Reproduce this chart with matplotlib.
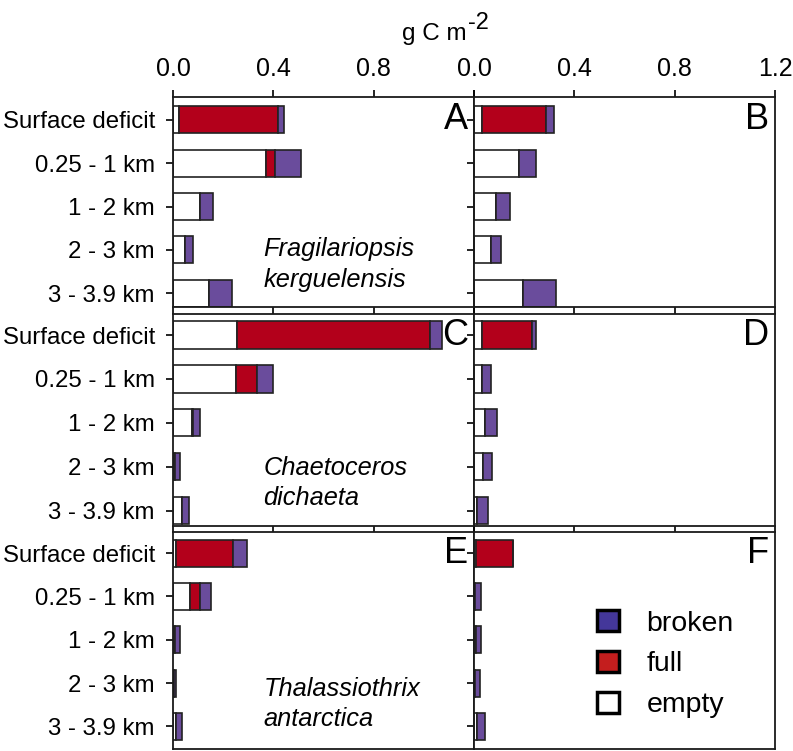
import numpy as np
import matplotlib
matplotlib.use('Agg')
import matplotlib.pyplot as plt
from matplotlib.patches import Patch

plt.rcParams['font.family'] = ['Liberation Sans', 'DejaVu Sans']

depths = ['Surface deficit', '0.25 - 1 km', '1 - 2 km', '2 - 3 km', '3 - 3.9 km']
xticks = [0.0, 0.4, 0.8, 1.2]
species = [('Fragilariopsis', 'kerguelensis'),
           ('Chaetoceros', 'dichaeta'),
           ('Thalassiothrix', 'antarctica')]

# g C m-2, stacked: empty | full | broken
empty_A = [0.025, 0.369, 0.108, 0.049, 0.143]
full_A = [0.394, 0.036, 0.0, 0.0, 0.0]
broken_A = [0.025, 0.107, 0.051, 0.032, 0.094]

empty_B = [0.033, 0.180, 0.089, 0.069, 0.195]
full_B = [0.255, 0.0, 0.0, 0.0, 0.0]
broken_B = [0.032, 0.067, 0.054, 0.039, 0.133]

empty_C = [0.256, 0.253, 0.076, 0.008, 0.035]
full_C = [0.768, 0.080, 0.005, 0.0, 0.0]
broken_C = [0.048, 0.066, 0.028, 0.019, 0.029]

empty_D = [0.033, 0.033, 0.044, 0.035, 0.013]
full_D = [0.198, 0.0, 0.0, 0.0, 0.0]
broken_D = [0.017, 0.036, 0.047, 0.037, 0.043]

empty_E = [0.012, 0.069, 0.008, 0.003, 0.011]
full_E = [0.227, 0.038, 0.0, 0.0, 0.0]
broken_E = [0.056, 0.044, 0.021, 0.010, 0.026]

empty_F = [0.006, 0.004, 0.008, 0.003, 0.013]
full_F = [0.151, 0.0, 0.0, 0.0, 0.0]
broken_F = [0.0, 0.023, 0.019, 0.021, 0.032]

panels = [('A', empty_A, full_A, broken_A), ('B', empty_B, full_B, broken_B),
          ('C', empty_C, full_C, broken_C), ('D', empty_D, full_D, broken_D),
          ('E', empty_E, full_E, broken_E), ('F', empty_F, full_F, broken_F)]

RED = '#B3001B'
PURPLE = '#6A4C9C'
EDGE = '#222222'

W, H = 793, 751
col_x = [173, 474]
col_w = 301
rows_px = [(96.5, 307.5), (314, 525.5), (531.5, 749)]
row_ylim = [(4.33, -0.54), (4.34, -0.48), (4.52, -0.5)]
name_y = [(3.14, 3.85), (3.19, 3.87), (3.29, 4.0)]

fig = plt.figure(figsize=(W / 100, H / 100), dpi=100)
axes = {}

for i, (letter, empty, full, broken) in enumerate(panels):
    row, col = divmod(i, 2)
    top, bot = rows_px[row]
    ax = fig.add_axes([col_x[col] / W, 1 - bot / H, col_w / W, (bot - top) / H])
    axes[letter] = ax
    y = np.arange(len(depths))
    kw = dict(height=0.62, edgecolor=EDGE, linewidth=1.2)
    ax.barh(y, empty, color='white', **kw)
    ax.barh(y, full, left=empty, color=RED, **kw)
    ax.barh(y, broken, left=np.add(empty, full), color=PURPLE, **kw)

    ax.set_xlim(0, 1.2)
    ax.set_ylim(*row_ylim[row])
    for s in ax.spines.values():
        s.set_linewidth(1.3)
        s.set_color('#1a1a1a')

    ax.set_yticks(y)
    if col == 0:
        ax.set_yticklabels(depths, fontsize=17.3)
    else:
        ax.set_yticklabels([])
    ax.tick_params(axis='y', direction='out', length=5, width=1.2, pad=8)

    ax.set_xticks(xticks)
    if row == 0:
        ax.xaxis.set_ticks_position('both')
        ax.tick_params(axis='x', top=True, labeltop=True, bottom=True,
                       labelbottom=False, direction='out', length=5, width=1.2,
                       labelsize=18, pad=6)
        if col == 0:
            ax.set_xticklabels(['0.0', '0.4', '0.8', ''])
        else:
            ax.set_xticklabels(['0.0', '0.4', '0.8', '1.2'])
    else:
        ax.tick_params(axis='x', top=False, labeltop=False, bottom=(row < 2),
                       labelbottom=False, direction='out', length=5, width=1.2)

    ax.text(1.178, 0, letter, ha='right', va='center', fontsize=26)

    if col == 0:
        l1, l2 = species[row]
        ax.text(0.36, name_y[row][0], l1, style='italic', fontsize=18.3, va='baseline')
        ax.text(0.36, name_y[row][1], l2, style='italic', fontsize=18.3, va='baseline')

# axis title with a plain hyphen in the superscript, as in the original
fig.text(402 / W, 1 - 40 / H, 'g C m', ha='left', va='baseline', fontsize=17.5)
fig.text(468 / W, 1 - 29 / H, '-2', ha='left', va='baseline', fontsize=17)

handles = [Patch(facecolor='#44379A', edgecolor='black', linewidth=2.5, label='broken'),
           Patch(facecolor='#C41E1E', edgecolor='black', linewidth=2.5, label='full'),
           Patch(facecolor='white', edgecolor='black', linewidth=2.5, label='empty')]
axes['F'].legend(handles=handles, loc='upper left', bbox_to_anchor=(597 / W, 1 - 610 / H),
                 bbox_transform=fig.transFigure, frameon=False, fontsize=20.5,
                 handlelength=0.78, handleheight=0.78, handletextpad=0.95,
                 labelspacing=0.5, borderpad=0, borderaxespad=0)

fig.savefig('out.png', dpi=100)
